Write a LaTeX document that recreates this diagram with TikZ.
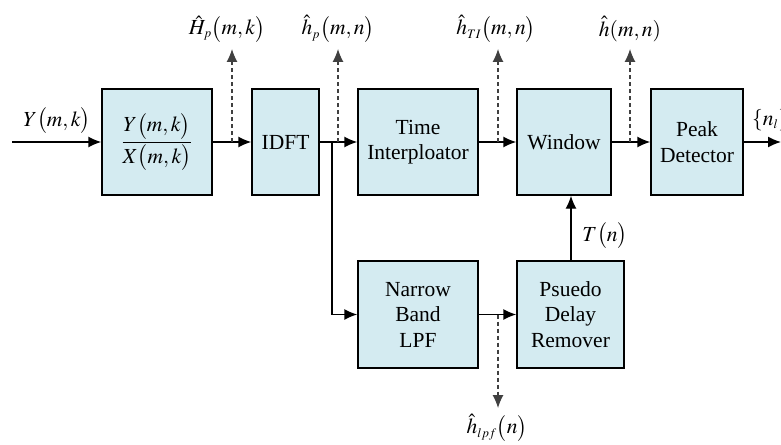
\documentclass[tikz,border=0pt]{standalone}
\usepackage{mathptmx}
\usepackage[no-math]{fontspec}
\setmainfont{Liberation Serif}
\usetikzlibrary{arrows.meta}
\definecolor{boxfill}{RGB}{212,235,241}
\newcommand{\sbs}[1]{_{\scriptscriptstyle #1}}
\tikzset{
  blk/.style={draw=black, line width=1.4pt, fill=boxfill, align=center, inner sep=0pt,
    font=\fontsize{21.5}{25.5}\selectfont},
  conn/.style={line width=1.4pt, -{Latex[length=13pt,width=11pt]}},
  tap/.style={line width=1.1pt, black!75, dash pattern=on 4pt off 3pt, -{Latex[length=13pt,width=11pt]}},
  lbl/.style={inner sep=0pt, font=\fontsize{21.5}{25.5}\selectfont}
}
\begin{document}
\begin{tikzpicture}[x=1pt,y=-1pt]
\useasboundingbox (0,0) rectangle (781,444);
% blocks
\node[blk, minimum width=110pt, minimum height=106pt] (div) at (157,142) {$\displaystyle\frac{Y\bigl(m,k\bigr)}{X\bigl(m,k\bigr)}$};
\node[blk, minimum width=67pt, minimum height=106pt] (idft) at (285.5,142) {IDFT};
\node[blk, minimum width=120pt, minimum height=106pt] (ti) at (418,142) {Time\\Interploator};
\node[blk, minimum width=94pt, minimum height=106pt] (win) at (564,142) {Window};
\node[blk, minimum width=92pt, minimum height=106pt] (peak) at (697,142) {Peak\\Detector};
\node[blk, minimum width=120pt, minimum height=107pt] (lpf) at (418,314.5) {Narrow\\Band\\LPF};
\node[blk, minimum width=107pt, minimum height=107pt] (pdr) at (570.5,314.5) {Psuedo\\Delay\\Remover};
% labels
\node[lbl] (ylab) at (57,121) {$Y\bigl(m,k\bigr)$};
\node[lbl] (hpk) at (227,29) {$\hat{H}\sbs{p}\bigl(m,k\bigr)$};
\node[lbl] (hpn) at (338,29) {$\hat{h}\sbs{p}\bigl(m,n\bigr)$};
\node[lbl] (hti) at (496,29) {$\hat{h}\sbs{TI}\bigl(m,n\bigr)$};
\node[lbl] (hmn) at (630,29) {$\hat{h}(m,n)$};
\node[lbl] (tn) at (605,236) {$T\bigl(n\bigr)$};
\node[lbl] (hlpf) at (497,428) {$\hat{h}\sbs{lpf}\bigl(n\bigr)$};
\node[lbl, anchor=west] (nl) at (752,120) {$\{n\sbs{l}\}$};
% coordinates
\coordinate (in) at (12,142);
\coordinate (out) at (781,142);
\coordinate (j1) at (332,142);
\coordinate (t1) at (232,142);
\coordinate (t1e) at (232,49);
\coordinate (t2) at (338,142);
\coordinate (t2e) at (338,49);
\coordinate (t3) at (498,142);
\coordinate (t3e) at (498,49);
\coordinate (t4) at (630,142);
\coordinate (t4e) at (630,49);
\coordinate (t5) at (498,314.5);
\coordinate (t5e) at (498,408);
% connectors
\draw[conn] (in) -- (div.west);
\draw[conn] (div.east) -- (idft.west);
\draw[conn] (idft.east) -- (ti.west);
\draw[conn] (ti.east) -- (win.west);
\draw[conn] (win.east) -- (peak.west);
\draw[conn] (peak.east) -- (out);
\draw[conn] (j1) |- (lpf.west);
\draw[conn] (lpf.east) -- (pdr.west);
\draw[conn] (pdr.north -| 571,0) -- (win.south -| 571,0);
% taps
\draw[tap] (t1) -- (t1e);
\draw[tap] (t2) -- (t2e);
\draw[tap] (t3) -- (t3e);
\draw[tap] (t4) -- (t4e);
\draw[tap] (t5) -- (t5e);
\end{tikzpicture}
\end{document}
